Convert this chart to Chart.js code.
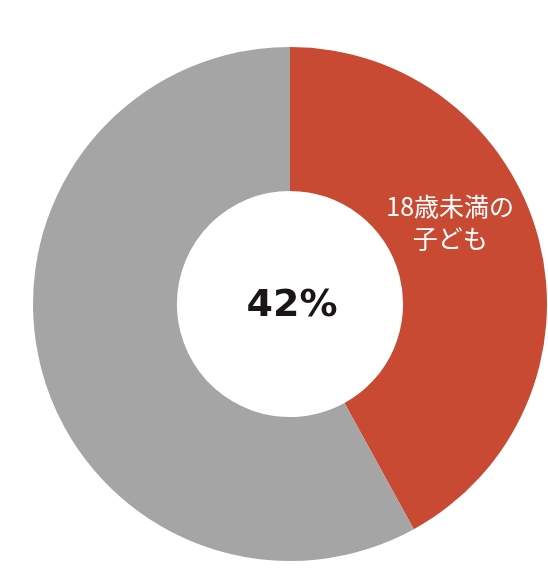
<!DOCTYPE html>
<html>
<head>
<meta charset="utf-8">
<script src="https://cdn.jsdelivr.net/npm/chart.js@4"></script>
<style>
  html, body { margin: 0; padding: 0; background: #fff; }
  #wrap { width: 548px; height: 585px; }
</style>
</head>
<body>
<div id="wrap"><canvas id="chart" width="548" height="585"></canvas></div>
<script>
const categories = ['18歳未満の子ども', 'その他'];
const shares = [42, 58];
const sliceLabels = [['18歳未満の', '子ども'], null];
const centerText = '42%';

// text drawn on top of the doughnut
const textPlugin = {
    id: 'texts',
    afterDatasetsDraw(chart) {
        const ctx = chart.ctx;
        const arcs = chart.getDatasetMeta(0).data;
        ctx.save();
        ctx.textAlign = 'center';
        ctx.textBaseline = 'middle';

        arcs.forEach((arc, i) => {
            const lines = sliceLabels[i];
            if (!lines) return;
            const p = arc.getProps(['x', 'y', 'startAngle', 'endAngle', 'outerRadius'], true);
            const a = p.startAngle + 0.416 * (p.endAngle - p.startAngle);
            const r = p.outerRadius * 0.70;
            const cx = p.x + Math.cos(a) * r;
            const cy = p.y + Math.sin(a) * r;
            ctx.fillStyle = '#ffffff';
            ctx.font = '25px "Noto Sans CJK JP"';
            lines.forEach((line, j) => {
                ctx.fillText(line, cx, cy + (j - (lines.length - 1) / 2) * 32);
            });
        });

        const first = arcs[0];
        ctx.fillStyle = '#1a1616';
        ctx.font = 'bold 38px "DejaVu Sans"';
        ctx.fillText(centerText, first.x + 2, first.y + 2);
        ctx.restore();
    }
};

new Chart(document.getElementById('chart').getContext('2d'), {
    type: 'doughnut',
    data: {
        labels: categories,
        datasets: [{
            data: shares,
            backgroundColor: ['#c94a32', '#a5a5a5'],
            borderWidth: 0
        }]
    },
    options: {
        responsive: false,
        animation: false,
        cutout: '44%',
        layout: {
            padding: { left: 33, top: 47, right: 1, bottom: 24 }
        },
        plugins: {
            legend: { display: false },
            tooltip: { enabled: false }
        }
    },
    plugins: [textPlugin]
});
</script>
</body>
</html>
